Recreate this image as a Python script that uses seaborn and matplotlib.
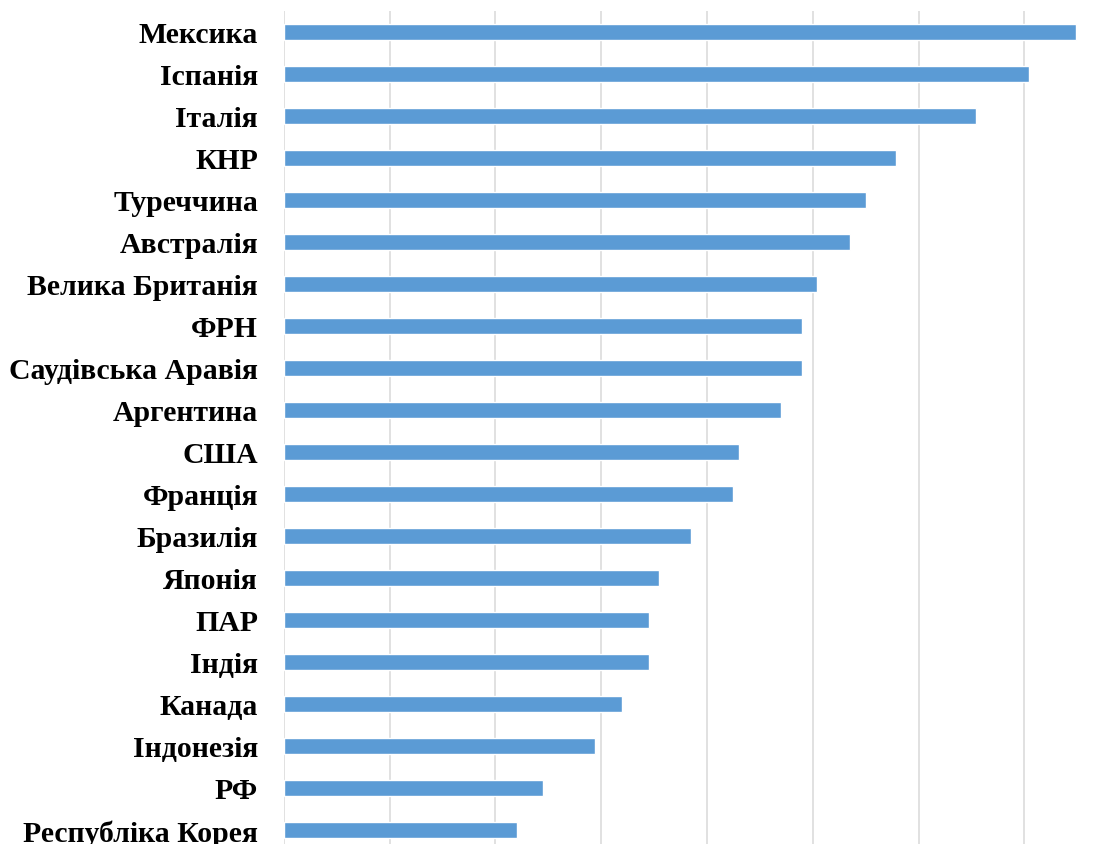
import matplotlib
matplotlib.use("Agg")
import matplotlib.pyplot as plt
import seaborn as sns
import pandas as pd

countries = [
    "Мексика", "Іспанія", "Італія", "КНР", "Туреччина", "Австралія",
    "Велика Британія", "ФРН", "Саудівська Аравія", "Аргентина", "США",
    "Франція", "Бразилія", "Японія", "ПАР", "Індія", "Канада",
    "Індонезія", "РФ", "Республіка Корея",
]
values = [
    7.49, 7.04, 6.54, 5.79, 5.50, 5.35, 5.04, 4.90, 4.90, 4.70, 4.30,
    4.25, 3.85, 3.55, 3.45, 3.45, 3.20, 2.94, 2.45, 2.20,
]
grid_ticks = [0, 1, 2, 3, 4, 5, 6, 7, 8]

df = pd.DataFrame({"country": countries, "value": values})

sns.set_theme(style="white")
plt.rcParams["font.family"] = ["Liberation Serif", "DejaVu Serif"]

fig = plt.figure(figsize=(11.19, 8.45), dpi=100)
ax = fig.add_axes([0.25362, -0.00828, 0.75639, 0.99408])

sns.barplot(data=df, x="value", y="country", orient="h", color="#5B9BD5",
            saturation=1, width=0.375, ax=ax)

ax.set_xlim(grid_ticks[0], grid_ticks[-1])
ax.set_xticks(grid_ticks)
ax.set_xticklabels([])
ax.xaxis.grid(True, color="#D9D9D9", linewidth=1.1)
ax.set_axisbelow(True)
ax.set_xlabel("")
ax.set_ylabel("")
for s in ax.spines.values():
    s.set_visible(False)
ax.tick_params(axis="x", length=0)
ax.tick_params(axis="y", length=0, pad=18.5)
for lbl in ax.get_yticklabels():
    lbl.set_fontsize(21.4)
    lbl.set_fontweight("bold")
    lbl.set_color("black")

fig.savefig("out.png", dpi=100, facecolor="white")
